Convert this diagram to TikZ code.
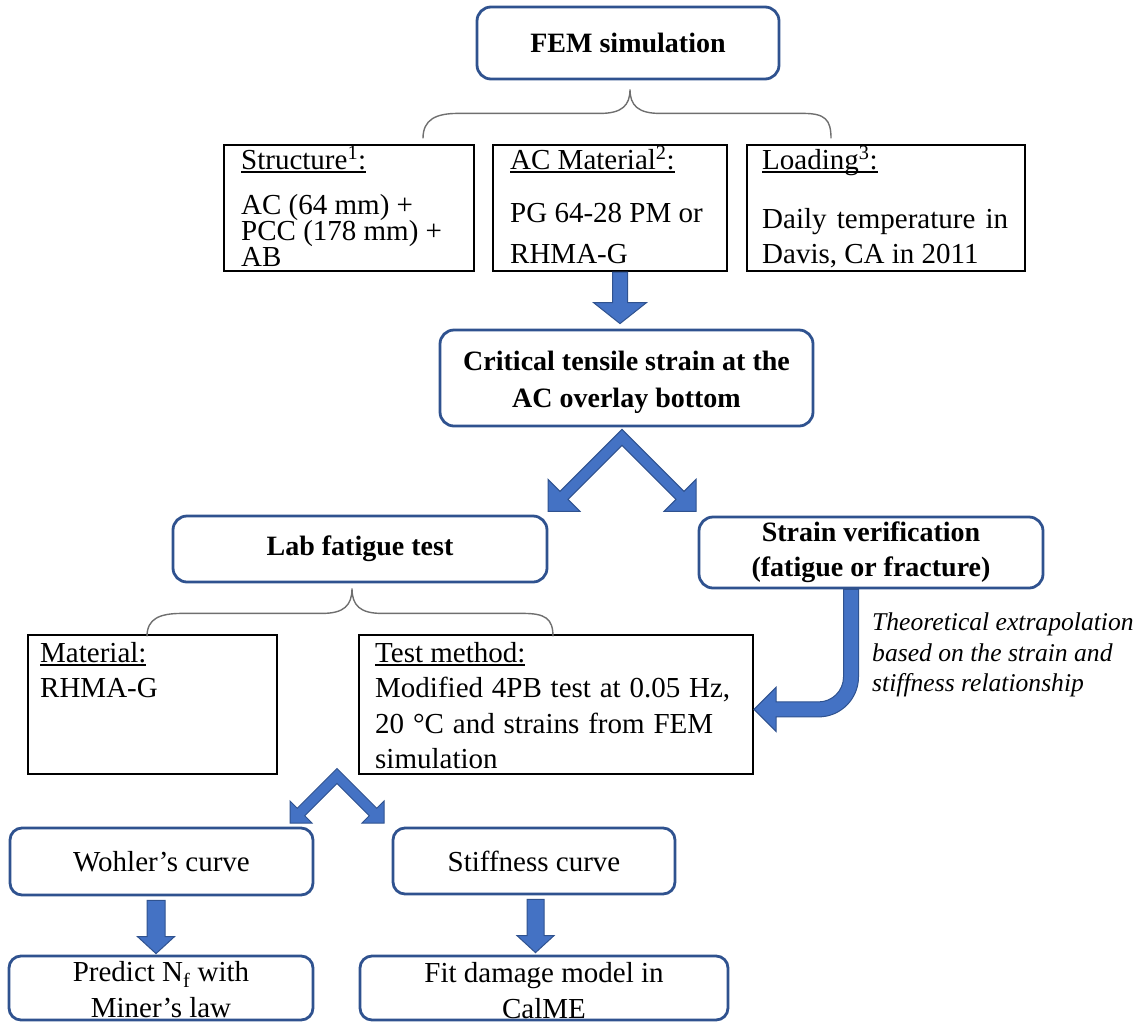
\documentclass[tikz,border=0pt]{standalone}
\usepackage{fontspec}
\setmainfont{Liberation Serif}
\usetikzlibrary{calc}
\definecolor{bord}{HTML}{2F528F}
\definecolor{afill}{HTML}{4472C4}
\definecolor{brc}{HTML}{6F6F6F}
\newsavebox\ulbox
\newcommand\myul[1]{\sbox\ulbox{#1}\rlap{\rule[-3.5pt]{\wd\ulbox}{1.3pt}}\usebox\ulbox}
\newcommand\blkdown[5]{\path[blk] let \p1=(#1), \p2=(#2) in
  (\x1-#3pt,\y1) -- (\x1-#3pt,\y2+#5pt) -- (\x1-#4pt,\y2+#5pt) -- (\x1,\y2)
  -- (\x1+#4pt,\y2+#5pt) -- (\x1+#3pt,\y2+#5pt) -- (\x1+#3pt,\y1) -- cycle;}
\tikzset{
  rbox/.style={draw=bord, line width=2.8pt, rounded corners=14pt, inner sep=0pt, align=center, fill=white},
  sqbox/.style={draw=black, line width=2.2pt, inner sep=0pt},
  bt/.style={font=\fontsize{28}{37}\selectfont\bfseries},
  rt/.style={font=\fontsize{29}{36}\selectfont},
  ln/.style={anchor=base west, inner sep=0pt, font=\fontsize{29}{30}\selectfont},
  ctxt/.style={anchor=north, inner sep=0pt, align=center, font=\fontsize{29}{36}\selectfont},
  blk/.style={fill=afill, draw=bord, line width=1pt, line join=miter},
  brace/.style={draw=brc, line width=1.4pt},
}
\begin{document}
\begin{tikzpicture}[x=1pt,y=-1pt]
\useasboundingbox (0,0) rectangle (1142,1023);
% rounded boxes
\node[rbox, bt, minimum width=302pt, minimum height=72pt] (fem) at (628,43) {FEM simulation};
\node[rbox, minimum width=373pt, minimum height=96pt] (crit) at (626.5,378) {};
\node[anchor=north, inner sep=0pt, align=center, bt] (crittxt) at (626.5,351) {Critical tensile strain at the\\AC overlay bottom};
\node[rbox, bt, minimum width=374pt, minimum height=66pt] (lab) at (360,549) {Lab fatigue test};
\node[rbox, font=\fontsize{28}{35}\selectfont\bfseries, minimum width=344pt, minimum height=71pt] (strain) at (871,552.5) {Strain verification\\(fatigue or fracture)};
\node[rbox, rt, rounded corners=12pt, minimum width=303pt, minimum height=67pt] (wohler) at (161.5,861.5) {Wohler’s curve};
\node[rbox, rt, rounded corners=12pt, minimum width=282pt, minimum height=66pt] (stiff) at (534,861) {Stiffness curve};
\node[rbox, rounded corners=12pt, minimum width=304pt, minimum height=64pt] (predict) at (161,988) {};
\node[ctxt] (predtxt) at (161,961) {Predict N\textsubscript{f} with\\Miner’s law};
\node[rbox, rounded corners=12pt, minimum width=368pt, minimum height=64pt] (fit) at (544,988) {};
\node[ctxt] (fittxt) at (544,962) {Fit damage model in\\CalME};
% square boxes
\node[sqbox, minimum width=250pt, minimum height=126pt] (struct) at (349,208) {};
\node[sqbox, minimum width=234pt, minimum height=126pt] (acm) at (610,208) {};
\node[sqbox, minimum width=278pt, minimum height=126pt] (load) at (886,208) {};
\node[sqbox, minimum width=249pt, minimum height=139pt] (mat) at (152.5,704.5) {};
\node[sqbox, minimum width=394pt, minimum height=139pt] (test) at (556,704.5) {};
% texts in square boxes
\node[ln] (s1) at (241,169) {\myul{Structure\textsuperscript{1}:}};
\node[ln] (s2) at (241,214) {AC (64 mm) +};
\node[ln] (s3) at (241,240) {PCC (178 mm) +};
\node[ln] (s4) at (241,266) {AB};
\node[ln] (a1) at (510,169) {\myul{AC Material\textsuperscript{2}:}};
\node[ln] (a2) at (510,222) {PG 64-28 PM or};
\node[ln] (a3) at (510,263) {RHMA-G};
\node[ln] (l1) at (762,169) {\myul{Loading\textsuperscript{3}:}};
\node[ln] (l2) at (762,228) {\hbox to 246pt{Daily\hfill temperature\hfill in}};
\node[ln] (l3) at (762,263) {Davis, CA in 2011};
\node[ln] (m1) at (40,662) {\myul{Material:}};
\node[ln] (m2) at (40,697) {RHMA-G};
\node[ln] (t1) at (375,662) {\myul{Test method:}};
\node[ln] (t2) at (375,697) {\hbox to 355pt{Modified\hfill 4PB\hfill test\hfill at\hfill 0.05\hfill Hz,}};
\node[ln] (t3) at (375,733) {\hbox to 338pt{20\hfill °C\hfill and\hfill strains\hfill from\hfill FEM}};
\node[ln] (t4) at (375,768) {simulation};
% note
\node[anchor=north west, inner sep=0pt, align=left, font=\fontsize{25.6}{30.5}\selectfont\itshape] (note) at (872,613)
  {Theoretical extrapolation\\based on the strain and\\stiffness relationship};
% braces
\coordinate (b1tip) at ($(fem.south)+(2,9)$);
\begin{scope}[shift={(b1tip)}]
\draw[brace] (-207,49) .. controls (-207,30) and (-194,24) .. (-172,24) -- (-30,24)
  .. controls (-8,24) and (0,16) .. (0,0) .. controls (0,16) and (8,24) .. (30,24) -- (173,24)
  .. controls (195,24) and (201,30) .. (201,49);
\end{scope}
\coordinate (b2tip) at ($(lab.south)+(-8,5)$);
\begin{scope}[shift={(b2tip)}]
\draw[brace] (-205,48) .. controls (-205,30) and (-192,25) .. (-170,25) -- (-30,25)
  .. controls (-8,25) and (0,17) .. (0,0) .. controls (0,17) and (8,25) .. (30,25) -- (171,25)
  .. controls (193,25) and (201,30) .. (201,48);
\end{scope}
% straight block arrows
\coordinate (d1s) at ($(acm.south)+(10,0)$);
\coordinate (d1e) at ($(crit.north)+(-6.5,-5)$);
\blkdown{d1s}{d1e}{7.5}{26.5}{21}
\coordinate (d2s) at ($(wohler.south)+(-5.5,4)$);
\coordinate (d2e) at ($(predict.north)+(-5,-1)$);
\blkdown{d2s}{d2e}{9}{18.5}{17}
\coordinate (d3s) at ($(stiff.south)+(1.5,4)$);
\coordinate (d3e) at ($(fit.north)+(-8.5,-2)$);
\blkdown{d3s}{d3e}{8.5}{18.5}{17}
% chevron 1
\coordinate (ch1) at ($(crit.south)+(-4.5,10)$);
\begin{scope}[shift={(ch1)}]
\path[blk] (0,-8) -- (-62,54) -- (-74,42) -- (-74,74) -- (-42,74) -- (-54,62) -- (0,8)
  -- (54,62) -- (42,74) -- (74,74) -- (74,42) -- (62,54) -- cycle;
\end{scope}
% chevron 2
\coordinate (ch2) at (337,776);
\begin{scope}[shift={(ch2)}]
\path[blk] (0,-7.5) -- (-39.75,32.25) -- (-47,25) -- (-47,47) -- (-25,47) -- (-32.25,39.75) -- (0,7.5)
  -- (32.25,39.75) -- (25,47) -- (47,47) -- (47,25) -- (39.75,32.25) -- cycle;
\end{scope}
% J arrow
\coordinate (js) at ($(strain.south)+(-20,0)$);
\begin{scope}[shift={(js)}]
\path[blk] (7.5,0) -- (7.5,87.5) arc[start angle=0, end angle=90, radius=40] -- (-75,127.5) -- (-75,142)
  -- (-97,120) -- (-75,98) -- (-75,112.5) -- (-32.5,112.5) arc[start angle=90, end angle=0, radius=25]
  -- (-7.5,0) -- cycle;
\end{scope}
\end{tikzpicture}
\end{document}
